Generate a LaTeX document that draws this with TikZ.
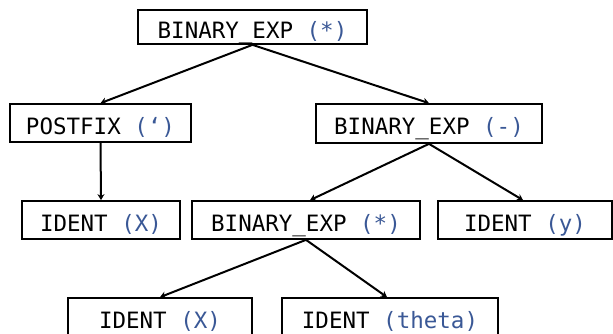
\documentclass[tikz,border=0pt]{standalone}
\usepackage{fontspec}
\setmonofont{DejaVu Sans Mono}
\usetikzlibrary{arrows.meta}
\definecolor{argblue}{RGB}{58,88,150}
\begin{document}
\begin{tikzpicture}[x=1pt,y=-1pt,
  treenode/.style={draw=black, line width=1.7pt, fill=white, inner sep=0pt,
    text height=16.4pt, text depth=0pt,
    minimum height=38pt, font=\ttfamily\fontsize{22.5}{22.5}\selectfont},
  edge/.style={line width=2pt, -{Stealth[length=6pt,width=7pt]}}]
\clip (0,0) rectangle (613,334);
\useasboundingbox (0,0) rectangle (613,334);
% label: node kind in black, argument in blue, set slightly low in the box
\newcommand{\lbl}[2]{\raisebox{-3pt}{#1 \textcolor{argblue}{(#2)}}}
\node[treenode, minimum width=229pt, minimum height=34pt] (root) at (252.5,27) {\lbl{BINARY\_EXP}{*}};
\node[treenode, minimum width=181pt] (post) at (100.5,123) {\lbl{POSTFIX}{‘}};
\node[treenode, minimum width=226pt, minimum height=39pt] (bminus) at (429,123.5) {\lbl{BINARY\_EXP}{-}};
\node[treenode, minimum width=158pt] (idx) at (101,220) {\lbl{IDENT}{X}};
\node[treenode, minimum width=228pt] (btimes) at (306,220) {\lbl{BINARY\_EXP}{*}};
\node[treenode, minimum width=174pt] (idy) at (525,220) {\lbl{IDENT}{y}};
\node[treenode, minimum width=184pt, minimum height=44pt] (idx2) at (160,320) {\raisebox{3pt}{\lbl{IDENT}{X}}};
\node[treenode, minimum width=216pt, minimum height=44pt] (idth) at (390,320) {\raisebox{3pt}{\lbl{IDENT}{theta}}};
\draw[edge] (root.south) -- (post.north);
\draw[edge] (root.south) -- (bminus.north);
\draw[edge] (post.south) -- (idx.north);
\draw[edge] (bminus.south) -- ([xshift=4pt]btimes.north);
\draw[edge] (bminus.south) -- ([xshift=-2pt]idy.north);
\draw[edge] (btimes.south) -- (idx2.north);
\draw[edge] (btimes.south) -- ([xshift=-3pt]idth.north);
\end{tikzpicture}
\end{document}
